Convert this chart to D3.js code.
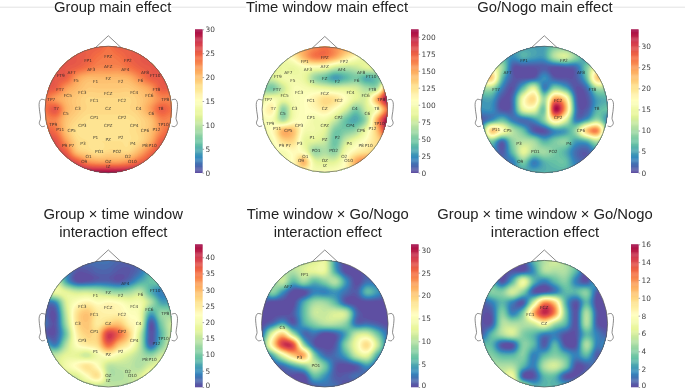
<!DOCTYPE html>
<html lang="en">

<head>
    <meta charset="UTF-8">
    <title>EEG topographic maps</title>
    <script src="https://d3js.org/d3.v7.min.js"></script>
    <style>
        html, body { margin: 0; background: #fff; }
        svg { display: block; filter: blur(0.45px); }
        .title { font-family: "Liberation Sans", Arial, sans-serif; font-size: 14.8px; fill: #222; text-anchor: middle; }
        .site { font-family: "DejaVu Sans", sans-serif; font-size: 4.3px; fill: #222; opacity: 0.85; text-anchor: middle; dominant-baseline: central; }
        .cbar text { font-family: "DejaVu Sans", sans-serif; font-size: 7.4px; fill: #444; }
        .cbar line { stroke: #555; stroke-width: 0.5; }
        .cbar .domain { stroke: none; }
    </style>
</head>

<body>
    <div id="chart"></div>
    <script>
        // Titles
        const titles = [
            ["Group main effect"],
            ["Time window main effect"],
            ["Go/Nogo main effect"],
            ["Group × time window", "interaction effect"],
            ["Time window × Go/Nogo", "interaction effect"],
            ["Group × time window × Go/Nogo", "interaction effect"]
        ];

        // Colorbar ranges and ticks
        const maxValues = [30, 211, 34, 44, 31.2, 16];
        const tickValues = [
            [0, 5, 10, 15, 20, 25, 30],
            [0, 25, 50, 75, 100, 125, 150, 175, 200],
            [0, 5, 10, 15, 20, 25, 30],
            [0, 5, 10, 15, 20, 25, 30, 35, 40],
            [0, 5, 10, 15, 20, 25, 30],
            [0, 2, 4, 6, 8, 10, 12, 14, 16]
        ];

        // Electrodes, in head units (head radius = 1)
        const siteNames = ["FP1", "FPZ", "FP2", "AF7", "AF3", "AFZ", "AF4", "AF8", "FT9", "F5", "F1", "FZ", "F2", "F6", "FT10", "FT7", "FC3", "FCZ", "FC4", "FT8", "FC5", "FC6", "TP7", "FC1", "FC2", "TP8", "T7", "C3", "CZ", "C4", "T8", "C5", "C6", "CP1", "CP2", "TP9", "CP3", "CPZ", "CP4", "TP10", "P11", "CP5", "CP6", "P12", "P1", "P2", "PZ", "P9", "P7", "P3", "P4", "P8", "P10", "PO1", "PO2", "O1", "O2", "O9", "OZ", "O10", "IZ"];
        const siteX = [-.32, 0, .31, -.58, -.27, 0, .27, .58, -.75, -.51, -.2, 0, .2, .51, .74, -.76, -.41, 0, .41, .76, -.64, .65, -.9, -.22, .22, .9, -.82, -.48, 0, .48, .83, -.67, .68, -.22, .22, -.87, -.41, 0, .41, .87, -.76, -.58, .58, .76, -.2, .2, 0, -.69, -.58, -.4, .39, .58, .7, -.14, .14, -.31, .31, -.38, 0, .38, 0];
        const siteY = [.77, .83, .77, .59, .63, .68, .63, .59, .53, .46, .45, .49, .45, .46, .53, .32, .27, .26, .27, .32, .22, .22, .16, .14, .14, .16, .01, .01, .01, .01, .01, -.06, -.06, -.12, -.12, -.23, -.26, -.25, -.26, -.23, -.31, -.33, -.33, -.31, -.44, -.44, -.48, -.57, -.57, -.54, -.54, -.57, -.57, -.66, -.66, -.75, -.75, -.82, -.82, -.82, -.9];

        // Which electrodes are labelled on each map
        const labelled = [
            siteNames,
            siteNames,
            ["FP1", "FP2", "AF7", "AF8", "FT7", "FT8", "T8", "FC2", "CP2", "P11", "CP5", "CP6", "P3", "P4", "PO1", "PO2", "O9"],
            ["AF4", "FT10", "F1", "FZ", "F2", "F6", "FC3", "FCZ", "FC4", "FC6", "FC1", "FC2", "TP8", "C3", "CZ", "C4", "CP1", "CP2", "CP3", "CP4", "TP10", "P12", "P1", "PZ", "P2", "P8", "P10", "OZ", "O2", "O10", "IZ"],
            ["FP1", "AF7", "C5", "P3", "PO1"],
            ["FCZ", "FC1", "CZ"]
        ];

        // Map values, 13 x 13 grid over the head square, top row first
        const groupMain = [
            [25, 25, 25, 25, 25, 25, 24, 25, 25, 25, 25, 25, 25],
            [26, 26, 26, 25.5, 25, 24, 23.5, 24, 25, 25.5, 26, 26, 26],
            [26, 26, 25.5, 25, 24, 23, 23, 23, 24, 25, 25.5, 26, 26],
            [26, 25.5, 25, 22, 20.5, 20.5, 20.5, 20.5, 21, 23, 25, 25.5, 26],
            [25.5, 25, 22, 20.5, 19.5, 19.5, 19.5, 19.5, 19.5, 20.5, 22, 25, 25],
            [24, 22, 20.5, 19.5, 18.7, 18.7, 18.7, 18.7, 18.7, 19.5, 21, 23, 23],
            [24, 25.5, 21, 19.5, 18.7, 18.7, 18.7, 18.7, 18.7, 19.5, 22, 25, 24],
            [23, 23, 20, 18.7, 18, 18, 18, 18, 18, 18.7, 20, 23, 23],
            [25, 24, 20, 18, 18, 18, 18, 18, 18, 18.7, 20, 23, 25],
            [26, 26, 22, 18.7, 18, 18, 18, 18, 18, 18.7, 21, 25, 26],
            [28, 27, 25, 20, 18.7, 18, 18.7, 18.7, 18.7, 21, 24, 27, 28],
            [30, 30, 28, 26, 23, 22, 22, 22, 23, 25, 27, 30, 30],
            [30, 30, 30, 30, 30, 30, 30, 30, 30, 30, 30, 30, 30]
        ];
        const timeMain = [
            [150, 150, 150, 150, 150, 160, 170, 160, 150, 150, 150, 150, 150],
            [100, 100, 100, 115, 145, 165, 165, 150, 125, 105, 90, 90, 90],
            [85, 85, 90, 90, 100, 100, 95, 75, 70, 75, 85, 85, 85],
            [75, 80, 95, 95, 90, 60, 45, 30, 40, 50, 35, 45, 60],
            [60, 50, 75, 100, 100, 95, 90, 85, 85, 80, 65, 70, 165],
            [90, 100, 90, 100, 105, 115, 130, 125, 105, 85, 85, 150, 211],
            [105, 115, 55, 95, 105, 110, 120, 105, 80, 50, 80, 105, 170],
            [100, 100, 65, 100, 105, 95, 95, 75, 45, 35, 65, 150, 211],
            [95, 110, 145, 140, 100, 95, 85, 50, 50, 60, 95, 140, 200],
            [90, 100, 130, 130, 90, 85, 75, 45, 75, 95, 110, 130, 150],
            [100, 100, 100, 110, 100, 60, 65, 55, 95, 115, 125, 135, 140],
            [100, 100, 100, 110, 145, 90, 85, 85, 110, 150, 165, 150, 150],
            [110, 110, 110, 110, 110, 100, 100, 105, 110, 130, 150, 150, 150]
        ];
        const goNogoMain = [
            [5, 5, 5, 5, 5, 5, 5, 8, 8, 5, 5, 5, 5],
            [6, 6, 6, 4, 6, 5, 5, 11, 13, 9, 4, 5, 5],
            [15, 15, 10, 1, .5, .5, 1, .5, 1, 2, 8, 15, 15],
            [18, 22, 7, 1, .5, 1, 4, 1, .5, 1, 7, 22, 20],
            [10, 10, 3, .5, 7, 14, 3, 9, 6, .5, 2, 10, 10],
            [5, 5, .5, 2, 16, 21, 10, 25, 20, 2, .5, 5, 6],
            [4, 4, .5, 2, 14, 15, 8, 33, 24, 3, 1, 6, 7],
            [1, 4, 7, 3, 2, 4, 9, 20, 14, 3, 5, 10, 4],
            [5, 22, 17, 11, 7, 1, .5, 4, 5, 10, 22, 26, 8],
            [4, 8, 2, 9, 11, 10, 6, 8, 9, 5, 6, 11, 5],
            [4, 5, 1, 7, 14, 10, 10, 8, 6, 2, 1, 4, 4],
            [5, 5, 3, 3, 8, 3, 6, 7, 7, 3, 2, 4, 4],
            [5, 5, 5, 5, 5, 6, 6, 6, 6, 5, 5, 5, 5]
        ];
        const groupTime = [
            [3, 3, 3, 3, 3, 3, 3, 2, 2, 3, 3, 3, 3],
            [12, 10, 5, 1, 1, 2, 2, 1, 1, 3, 8, 10, 10],
            [20, 18, 7, 1, 1, 2, 2, 1, 3, 7, 9, 10, 10],
            [16, 19, 18, 16, 16, 15, 13, 12, 13, 15, 8, 4, 6],
            [3, 5, 17, 22, 24, 22, 23, 22, 20, 20, 14, 7, 7],
            [2, 1, 15, 26, 29, 25, 24, 24, 22, 20, 7, 12, 12],
            [3, 1, 13, 26, 29, 25, 28, 29, 24, 20, 1, 10, 16],
            [1, 1, 10, 24, 28, 28, 40, 36, 28, 16, 1, 8, 16],
            [8, 4, 14, 22, 25, 27, 36, 29, 24, 15, 2, 10, 17],
            [15, 15, 18, 18, 16, 20, 23, 20, 17, 14, 12, 16, 17],
            [16, 16, 20, 23, 26, 22, 15, 15, 15, 14, 17, 19, 19],
            [16, 16, 16, 17, 22, 26, 15, 14, 15, 17, 21, 20, 20],
            [14, 14, 14, 14, 14, 14, 15, 15, 15, 16, 17, 17, 17]
        ];
        const timeGo = [
            [11, 11, 11, 11, 11, 12, 13, 4, 0, 0, 0, 0, 0],
            [10, 10, 10, 10, 12, 13, 13, 5, 0, 0, 1, 1, 1],
            [7, 8, 11, 6, 9, 6, 8, 10, 4, 0, 2, 2, 2],
            [2, 8, 4, 0, 0, 3, 3, 4, 2, 1, 6, 4, 1],
            [1, 0, 0, 0, 5, 9, 9, 6, 1, 0, 0, 0, 0],
            [0, 0, 0, 1, 6, 11, 11, 12, 11, 2, 0, 0, 0],
            [0, 2, 5, 1, 5, 8, 10, 10, 8, 2, 2, 1, 0],
            [2, 13, 20, 10, 2, 2, 0, 1, 5, 11, 12, 7, 2],
            [5, 17, 28, 27, 9, 1, 0, 1, 8, 14, 19, 11, 2],
            [1, 5, 13, 20, 22, 8, 2, 2, 5, 11, 13, 5, 1],
            [0, 1, 2, 5, 8, 11, 7, 1, 0, 1, 4, 1, 0],
            [0, 0, 1, 0, 0, 6, 4, 1, 1, 2, 1, 0, 0],
            [0, 0, 0, 0, 0, 1, 2, 2, 0, 0, 0, 0, 0]
        ];
        const threeWay = [
            [.3, .3, .3, .3, .3, 3, 5, 6, 5, 4, 3, 2, 2],
            [2, 2, .3, .3, .3, 2, 5, 5, 5, 3, .3, 2, 2],
            [3, 3, .3, 3, 7, 3, 1.5, 3, 4, 1.5, .3, 3, 3],
            [3, 4, 4, 6, 4, .5, .5, 1.5, 3, 3, 4, .5, .5],
            [.5, 1.5, 3, 1.5, .5, 6, 12, 10, 3, .3, 3, 0, 0],
            [.3, .5, 4, 1.5, 4, 11, 15, 12, 4, .3, 5, .5, 0],
            [.3, .5, 5, 5, 5, 6, 8, 5, 3, .3, 5, .5, 0],
            [.5, 3, 5, 6, 4, 3, 1.5, 1.5, .3, .3, 3, 1.5, .5],
            [3, 3, .3, .3, 4, 3, .5, 3, .3, .3, 5, 1.5, 2],
            [4, 4, 3, 3, 4, 1.5, 3, 4, 3, 1.5, 3, .5, 2],
            [5, 5, 5, 5, 3, 1.5, 5, 6, 4, .3, .5, 1.5, 2],
            [6, 6, 6, 7, .5, .3, 3, 3, .3, .3, 1.5, 3, 3],
            [7, 7, 7, 7, 6, 3, 3, 3, 3, 3, 3, 3, 3]
        ];
        const grids = [groupMain, timeMain, goNogoMain, groupTime, timeGo, threeWay];

        // Panel layout in page pixels
        const width = 685;
        const height = 390;
        const layout = [
            { cx: 108.3, cy: 109.5, r: 63.3, barX: 195, barTop: 29.3, barBottom: 172.7, titleX: 112.7, titleY: 12.4 },
            { cx: 324.8, cy: 109.5, r: 62.7, barX: 411, barTop: 29.3, barBottom: 172.7, titleX: 327, titleY: 12.4 },
            { cx: 544.3, cy: 109.5, r: 63.3, barX: 631, barTop: 29.3, barBottom: 172.7, titleX: 545, titleY: 12.4 },
            { cx: 108.3, cy: 323.7, r: 63.3, barX: 195, barTop: 244.3, barBottom: 387, titleX: 113.3, titleY: 219.3 },
            { cx: 324.8, cy: 323.7, r: 63.3, barX: 411, barTop: 244.3, barBottom: 387, titleX: 327.8, titleY: 219.3 },
            { cx: 544.3, cy: 323.7, r: 63.3, barX: 631, barTop: 244.3, barBottom: 387, titleX: 545, titleY: 219.3 }
        ];

        // Same Spectral stops as the matplotlib map, straight lines between them
        const spectral = d3.piecewise(d3.interpolateRgb, d3.schemeSpectral[11]);

        // Smooth the coarse grid for the filled contours
        const upsampleSize = 156;
        const cubic = (a, b, c, d, t) => 0.5 * (2 * b + (c - a) * t + (2 * a - 5 * b + 4 * c - d) * t * t + (3 * b - a - 3 * c + d) * t * t * t);

        function upsample(grid, size, maxValue) {
            const n = grid.length;
            const at = (i, j) => grid[Math.max(0, Math.min(n - 1, j))][Math.max(0, Math.min(n - 1, i))];
            const out = new Float64Array(size * size);
            for (let y = 0; y < size; y++) {
                const gy = y / (size - 1) * (n - 1);
                const j = Math.min(n - 2, Math.floor(gy));
                for (let x = 0; x < size; x++) {
                    const gx = x / (size - 1) * (n - 1);
                    const i = Math.min(n - 2, Math.floor(gx));
                    const column = [-1, 0, 1, 2].map(dj => cubic(at(i - 1, j + dj), at(i, j + dj), at(i + 1, j + dj), at(i + 2, j + dj), gx - i));
                    out[y * size + x] = Math.max(0, Math.min(maxValue, cubic(column[0], column[1], column[2], column[3], gy - j)));
                }
            }
            return out;
        }

        const svg = d3.select("#chart")
            .append("svg")
            .attr("width", width)
            .attr("height", height)
            .attr("viewBox", `0 0 ${width} ${height}`);

        // Rule across the top, broken by the titles
        svg.append("line")
            .attr("x1", 0).attr("x2", width)
            .attr("y1", 7.2).attr("y2", 7.2)
            .attr("stroke", "#dcdcdc")
            .attr("stroke-width", 0.8);

        const earPoints = [[1.0, 0.15], [1.06, 0.16], [1.09, 0.11], [1.085, -0.03], [1.07, -0.14], [1.09, -0.22], [1.05, -0.27], [1.0, -0.26]];
        const nosePoints = [[-0.2, 0.98], [0, 1.165], [0.2, 0.98]];

        layout.forEach((p, k) => {
            const g = svg.append("g");
            const maxValue = maxValues[k];

            // Head scales
            const x = d3.scaleLinear().domain([-1, 1]).range([p.cx - p.r, p.cx + p.r]);
            const y = d3.scaleLinear().domain([-1, 1]).range([p.cy + p.r, p.cy - p.r]);
            const color = d3.scaleSequential(spectral).domain([maxValue, 0]);

            // Filled contours
            const gridX = d3.scaleLinear().domain([0.5, upsampleSize - 0.5]).range([-1, 1]);
            const gridY = d3.scaleLinear().domain([0.5, upsampleSize - 0.5]).range([1, -1]);
            const path = d3.geoPath(d3.geoTransform({
                point(px, py) { this.stream.point(x(gridX(px)), y(gridY(py))); }
            }));
            const contours = d3.contours()
                .size([upsampleSize, upsampleSize])
                .thresholds(d3.range(0, maxValue, maxValue / 80))(upsample(grids[k], upsampleSize, maxValue));

            svg.append("clipPath").attr("id", `head${k}`)
                .append("circle").attr("cx", p.cx).attr("cy", p.cy).attr("r", p.r);

            g.append("g")
                .attr("clip-path", `url(#head${k})`)
                .selectAll("path")
                .data(contours)
                .join("path")
                .attr("d", path)
                .attr("fill", d => color(d.value));

            // Head outline, nose and ears
            const outline = g.append("g")
                .attr("fill", "none")
                .attr("stroke", "#5a5a5a")
                .attr("stroke-width", 0.7);
            outline.append("circle").attr("cx", p.cx).attr("cy", p.cy).attr("r", p.r);
            outline.append("path").attr("d", d3.line().x(d => x(d[0])).y(d => y(d[1]))(nosePoints));
            const ear = d3.line().curve(d3.curveCatmullRom);
            outline.append("path").attr("d", ear(earPoints.map(d => [x(d[0]), y(d[1])])));
            outline.append("path").attr("d", ear(earPoints.map(d => [x(-d[0]), y(d[1])])));

            // Electrode labels
            g.append("g")
                .selectAll("text")
                .data(labelled[k])
                .join("text")
                .attr("class", "site")
                .attr("x", d => x(siteX[siteNames.indexOf(d)]))
                .attr("y", d => y(siteY[siteNames.indexOf(d)]))
                .text(d => d);

            // Colorbar
            const barScale = d3.scaleLinear().domain([0, maxValue]).range([p.barBottom, p.barTop]);
            const bands = d3.range(0, maxValue, maxValue / 128);
            g.append("g")
                .selectAll("rect")
                .data(bands)
                .join("rect")
                .attr("x", p.barX)
                .attr("width", 7.6)
                .attr("y", d => barScale(d + maxValue / 128))
                .attr("height", d => barScale(d) - barScale(d + maxValue / 128) + 0.3)
                .attr("fill", d => color(d));

            const axis = g.append("g")
                .attr("class", "cbar")
                .attr("transform", `translate(${p.barX + 7.6},0)`)
                .call(d3.axisRight(barScale).tickValues(tickValues[k]).tickSize(1.5).tickPadding(1.5));

            // Bottom row: keep the 0 inside the page
            if (k >= 3) axis.selectAll("text").filter(d => d === 0).attr("dy", "0.1em");

            // Title, on a white patch that breaks the rule
            const titleG = g.append("g");
            const patch = titleG.append("rect").attr("fill", "#fff");
            const title = titleG.append("text")
                .attr("class", "title")
                .attr("x", p.titleX)
                .attr("y", p.titleY);
            title.selectAll("tspan")
                .data(titles[k])
                .join("tspan")
                .attr("x", p.titleX)
                .attr("dy", (d, i) => i ? 17.8 : 0)
                .text(d => d);
            if (k < 3) {
                const box = title.node().getBBox();
                patch.attr("x", box.x).attr("y", box.y).attr("width", box.width).attr("height", box.height);
            }
        });
    </script>
</body>

</html>
